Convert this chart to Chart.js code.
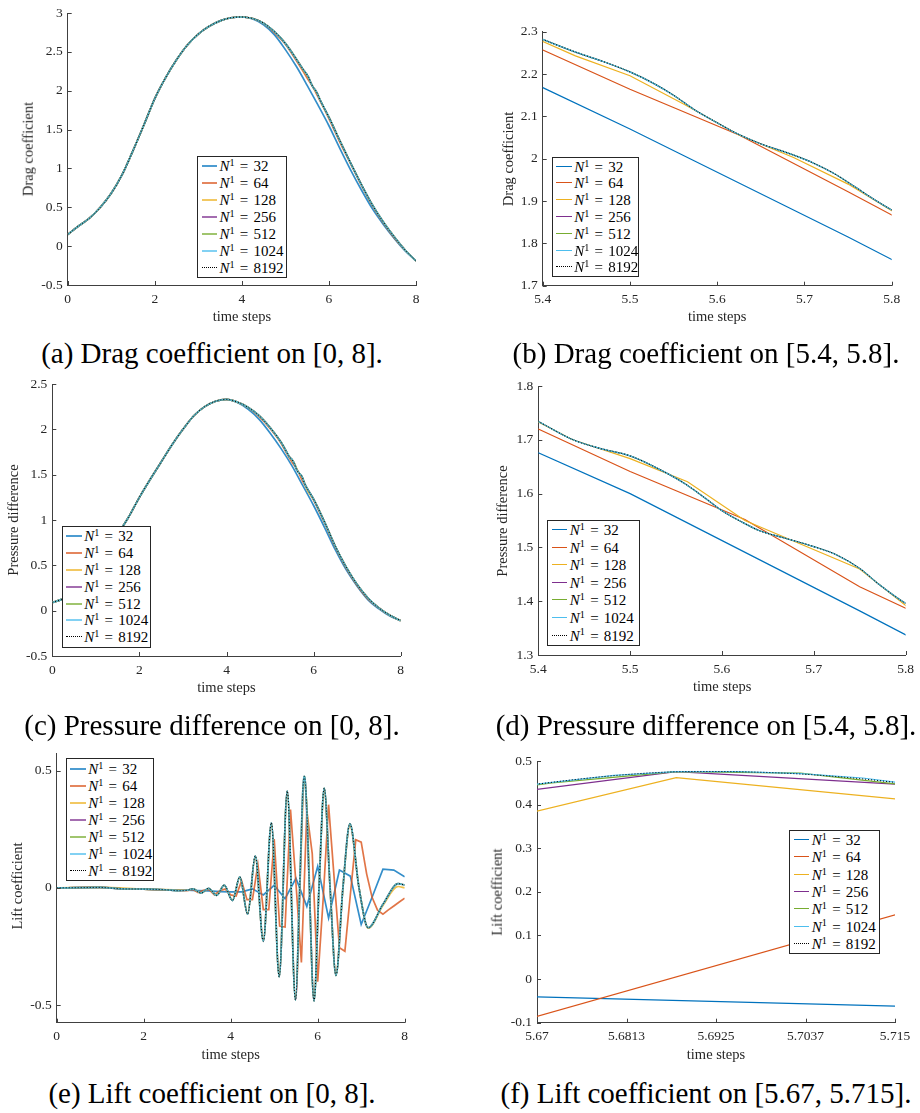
<!DOCTYPE html>
<html><head><meta charset="utf-8">
<script src="https://cdn.jsdelivr.net/npm/chart.js@4.4.1/dist/chart.umd.min.js"></script>
<style>
html,body{margin:0;padding:0;background:#fff}
body{width:920px;height:1113px;position:relative;overflow:hidden;font-family:'Liberation Serif','Times New Roman',serif;color:#262626}
canvas{position:absolute}
.yl,.xl,.cap{position:absolute;white-space:nowrap;line-height:1}
.yl{font-size:14.5px;transform:translate(-50%,-50%) rotate(-90deg)}
.xl{font-size:14.5px;transform:translate(-50%,-50%)}
.cap{font-size:29px;color:#000;transform:translate(-50%,-50%)}
.leg{position:absolute;box-sizing:border-box;border:1px solid #262626;background:#fff}
.sw{position:absolute;width:15.5px;height:0}
.tx{position:absolute;transform:translateY(-50%);font-size:15px;word-spacing:1.5px;white-space:nowrap;line-height:1;color:#000}
.tx sup{font-size:68%;vertical-align:0;position:relative;top:-0.5em}
</style></head><body>
<script>
// ---------------- DATA ----------------
const seriesN = [32, 64, 128, 256, 512, 1024, 8192];

// Drag coefficient
const tDrag32 = [0,0.25,0.5,0.75,1,1.25,1.5,1.75,2,2.25,2.5,2.75,3,3.25,3.5,3.75,4,4.25,4.5,4.75,5,5.25,5.5,5.75,6,6.25,6.5,6.75,7,7.25,7.5,7.75,8];
const drag32 = [0.15,0.26,0.36,0.50,0.68,0.92,1.23,1.56,1.90,2.17,2.40,2.59,2.73,2.83,2.90,2.94,2.95,2.925,2.85,2.72,2.53,2.315,2.07,1.815,1.55,1.26,0.98,0.72,0.48,0.28,0.10,-0.06,-0.19];
const tDrag64 = [0,0.25,0.5,0.75,1,1.25,1.5,1.75,2,2.25,2.5,2.75,3,3.25,3.5,3.75,4,4.25,4.5,4.75,5,5.25,5.375,5.5,5.625,5.75,5.875,6,6.25,6.5,6.75,7,7.25,7.5,7.75,8];
const drag64 = [0.15,0.26,0.36,0.50,0.68,0.92,1.23,1.56,1.90,2.17,2.40,2.59,2.73,2.83,2.90,2.94,2.95,2.93,2.87,2.75,2.60,2.39,2.28,2.164,2.056,1.922,1.785,1.64,1.34,1.06,0.78,0.52,0.30,0.11,-0.05,-0.19];
const tDrag128 = [0,0.25,0.5,0.75,1,1.25,1.5,1.75,2,2.25,2.5,2.75,3,3.25,3.5,3.75,4,4.25,4.5,4.75,5,5.25,5.375,5.4375,5.5,5.5625,5.625,5.6875,5.75,5.8125,5.875,6,6.25,6.5,6.75,7,7.25,7.5,7.75,8];
const drag128 = [0.15,0.26,0.36,0.50,0.68,0.92,1.23,1.56,1.90,2.17,2.40,2.59,2.73,2.83,2.90,2.94,2.95,2.93,2.87,2.76,2.61,2.41,2.30,2.243,2.196,2.128,2.056,2.003,1.94,1.862,1.79,1.66,1.36,1.07,0.79,0.53,0.31,0.12,-0.05,-0.19];
const tDragFine = [0,0.25,0.5,0.75,1,1.25,1.5,1.75,2,2.25,2.5,2.75,3,3.25,3.5,3.75,4,4.25,4.5,4.75,5,5.25,5.4,5.44,5.47,5.5,5.527,5.55,5.573,5.6,5.622,5.649,5.687,5.71,5.733,5.756,5.779,5.8,6,6.25,6.5,6.75,7,7.25,7.5,7.75,8];
const drag256 = [0.15,0.26,0.36,0.50,0.68,0.92,1.23,1.56,1.90,2.17,2.40,2.59,2.73,2.83,2.90,2.94,2.95,2.93,2.87,2.76,2.61,2.41,2.282,2.250,2.229,2.205,2.178,2.150,2.117,2.085,2.060,2.036,2.009,1.990,1.966,1.936,1.905,1.879,1.66,1.36,1.07,0.79,0.53,0.31,0.12,-0.05,-0.19];
const drag512 = [0.15,0.26,0.36,0.50,0.68,0.92,1.23,1.56,1.90,2.17,2.40,2.59,2.73,2.83,2.90,2.94,2.95,2.93,2.87,2.76,2.61,2.41,2.282,2.250,2.229,2.205,2.178,2.150,2.117,2.085,2.060,2.036,2.009,1.990,1.966,1.936,1.905,1.879,1.66,1.36,1.07,0.79,0.53,0.31,0.12,-0.05,-0.19];
const drag1024 = [0.15,0.26,0.36,0.50,0.68,0.92,1.23,1.56,1.90,2.17,2.40,2.59,2.73,2.83,2.90,2.94,2.95,2.93,2.87,2.76,2.61,2.41,2.282,2.250,2.229,2.205,2.178,2.150,2.117,2.085,2.060,2.036,2.009,1.990,1.966,1.936,1.905,1.879,1.66,1.36,1.07,0.79,0.53,0.31,0.12,-0.05,-0.19];
const drag8192 = [0.15,0.26,0.36,0.50,0.68,0.92,1.23,1.56,1.90,2.17,2.40,2.59,2.73,2.83,2.90,2.94,2.95,2.93,2.87,2.76,2.61,2.41,2.282,2.250,2.229,2.205,2.178,2.150,2.117,2.085,2.060,2.036,2.009,1.990,1.966,1.936,1.905,1.879,1.66,1.36,1.07,0.79,0.53,0.31,0.12,-0.05,-0.19];

// Pressure difference
const tPres32 = [0,0.25,0.5,0.75,1,1.25,1.5,1.75,2,2.25,2.5,2.75,3,3.25,3.5,3.75,4,4.25,4.5,4.75,5,5.25,5.5,5.75,6,6.25,6.5,6.75,7,7.25,7.5,7.75,8];
const pres32 = [0.09,0.13,0.19,0.30,0.45,0.63,0.84,1.03,1.25,1.45,1.64,1.83,2.00,2.15,2.25,2.31,2.33,2.295,2.22,2.11,1.96,1.79,1.60,1.382,1.16,0.92,0.67,0.45,0.27,0.12,0.02,-0.06,-0.11];
const tPres64 = [0,0.25,0.5,0.75,1,1.25,1.5,1.75,2,2.25,2.5,2.75,3,3.25,3.5,3.75,4,4.25,4.5,4.75,5,5.25,5.375,5.5,5.625,5.75,5.875,6,6.25,6.5,6.75,7,7.25,7.5,7.75,8];
const pres64 = [0.09,0.13,0.19,0.30,0.45,0.63,0.84,1.03,1.25,1.45,1.64,1.83,2.00,2.15,2.25,2.31,2.33,2.30,2.24,2.14,2.01,1.85,1.74,1.641,1.552,1.427,1.327,1.22,0.97,0.70,0.47,0.28,0.13,0.03,-0.05,-0.11];
const tPres128 = [0,0.25,0.5,0.75,1,1.25,1.5,1.75,2,2.25,2.5,2.75,3,3.25,3.5,3.75,4,4.25,4.5,4.75,5,5.25,5.375,5.4375,5.5,5.5625,5.625,5.6875,5.75,5.8125,5.875,6,6.25,6.5,6.75,7,7.25,7.5,7.75,8];
const pres128 = [0.09,0.13,0.19,0.30,0.45,0.63,0.84,1.03,1.25,1.45,1.64,1.83,2.00,2.15,2.25,2.31,2.33,2.30,2.24,2.15,2.02,1.86,1.755,1.70,1.665,1.622,1.55,1.505,1.46,1.375,1.31,1.23,0.98,0.71,0.48,0.29,0.14,0.03,-0.05,-0.11];
const tPresFine = [0,0.25,0.5,0.75,1,1.25,1.5,1.75,2,2.25,2.5,2.75,3,3.25,3.5,3.75,4,4.25,4.5,4.75,5,5.25,5.4,5.438,5.467,5.5,5.532,5.561,5.583,5.601,5.623,5.641,5.667,5.699,5.725,5.75,5.772,5.8,6,6.25,6.5,6.75,7,7.25,7.5,7.75,8];
const pres256 = [0.09,0.13,0.19,0.30,0.45,0.63,0.84,1.03,1.25,1.45,1.64,1.83,2.00,2.15,2.25,2.31,2.33,2.30,2.24,2.15,2.02,1.86,1.734,1.700,1.684,1.670,1.645,1.617,1.590,1.567,1.546,1.531,1.518,1.502,1.486,1.461,1.430,1.396,1.23,0.98,0.71,0.48,0.29,0.14,0.03,-0.05,-0.11];
const pres512 = [0.09,0.13,0.19,0.30,0.45,0.63,0.84,1.03,1.25,1.45,1.64,1.83,2.00,2.15,2.25,2.31,2.33,2.30,2.24,2.15,2.02,1.86,1.734,1.700,1.684,1.670,1.645,1.617,1.590,1.567,1.546,1.531,1.518,1.502,1.486,1.461,1.430,1.396,1.23,0.98,0.71,0.48,0.29,0.14,0.03,-0.05,-0.11];
const pres1024 = [0.09,0.13,0.19,0.30,0.45,0.63,0.84,1.03,1.25,1.45,1.64,1.83,2.00,2.15,2.25,2.31,2.33,2.30,2.24,2.15,2.02,1.86,1.734,1.700,1.684,1.670,1.645,1.617,1.590,1.567,1.546,1.531,1.518,1.502,1.486,1.461,1.430,1.396,1.23,0.98,0.71,0.48,0.29,0.14,0.03,-0.05,-0.11];
const pres8192 = [0.09,0.13,0.19,0.30,0.45,0.63,0.84,1.03,1.25,1.45,1.64,1.83,2.00,2.15,2.25,2.31,2.33,2.30,2.24,2.15,2.02,1.86,1.734,1.700,1.684,1.670,1.645,1.617,1.590,1.567,1.546,1.531,1.518,1.502,1.486,1.461,1.430,1.396,1.23,0.98,0.71,0.48,0.29,0.14,0.03,-0.05,-0.11];

// Lift coefficient
const tLift32 = [0,0.25,0.5,0.75,1,1.25,1.5,1.75,2,2.25,2.5,2.75,3,3.25,3.5,3.75,4,4.25,4.5,4.75,5,5.25,5.5,5.75,6,6.25,6.5,6.75,7,7.25,7.5,7.75,8];
const lift32 = [0,0,0.001,0.002,0.002,0,-0.004,-0.005,-0.005,-0.007,-0.008,-0.01,-0.01,-0.012,-0.013,-0.016,-0.017,-0.017,-0.004,-0.03,0.011,-0.046,0.041,-0.079,0.092,-0.128,0.076,0.05,-0.156,-0.04,0.08,0.076,0.047];
const tLift64 = [0,0.125,0.25,0.375,0.5,0.625,0.75,0.875,1,1.125,1.25,1.375,1.5,1.625,1.75,1.875,2,2.125,2.25,2.375,2.5,2.625,2.75,2.875,3,3.125,3.25,3.375,3.5,3.625,3.75,3.875,4,4.125,4.25,4.375,4.5,4.625,4.75,4.875,5,5.125,5.25,5.375,5.5,5.625,5.75,5.875,6,6.125,6.25,6.375,6.5,6.625,6.75,6.875,7,7.125,7.25,7.375,7.5,7.625,7.75,7.875,8];
const lift64 = [0,0,0,0.001,0.001,0.002,0.002,0.002,0.002,0.001,0,-0.002,-0.004,-0.004,-0.005,-0.005,-0.005,-0.006,-0.007,-0.008,-0.008,-0.009,-0.01,-0.011,-0.012,-0.006,-0.02,-0.01,-0.006,-0.03,-0.012,-0.005,-0.03,-0.035,0.03,-0.05,-0.05,0.10,-0.093,-0.093,0.208,-0.163,-0.167,0.334,0.02,-0.318,0.328,0.145,-0.40,-0.05,0.355,0.05,-0.255,-0.27,-0.03,0.205,0.195,0.06,-0.04,-0.095,-0.112,-0.094,-0.077,-0.06,-0.044];
const tLift128 = [0,1,2,3,3.13,3.32,3.49,3.68,3.85,4.04,4.21,4.39,4.565,4.75,4.935,5.115,5.3,5.49,5.625,5.6875,5.75,5.915,6.03,6.15,6.285,6.42,6.58,6.74,6.95,7.16,7.5,7.85,8];
const lift128 = [0,0.002,-0.005,-0.01,-0.004,-0.022,-0.003,-0.031,0.011,-0.052,0.045,-0.108,0.132,-0.222,0.27,-0.372,0.405,-0.47,0.187,0.462,0.351,-0.475,0,0.415,0,-0.368,0,0.265,0,-0.172,-0.075,0.006,0];
const tLift256 = [0,0.5,1,1.5,2,2.5,2.8,3,3.13,3.32,3.49,3.68,3.85,4.04,4.21,4.39,4.565,4.75,4.935,5.115,5.3,5.49,5.59,5.65625,5.6875,5.71875,5.8,5.915,6.03,6.15,6.285,6.42,6.58,6.74,6.95,7.16,7.5,7.85,8];
const lift256 = [0,0.001,0.002,-0.004,-0.005,-0.008,-0.012,-0.01,-0.004,-0.022,-0.002,-0.032,0.012,-0.054,0.047,-0.112,0.137,-0.228,0.277,-0.379,0.413,-0.478,0,0.403,0.4755,0.443,0.05,-0.482,0,0.425,0,-0.373,0,0.273,0,-0.17,-0.07,0.018,0.012];
const tLift512 = [0,0.5,1,1.5,2,2.5,2.8,3,3.13,3.32,3.49,3.68,3.85,4.04,4.21,4.39,4.565,4.75,4.935,5.115,5.3,5.49,5.585,5.63,5.65625,5.671875,5.6875,5.703125,5.71875,5.76,5.8,5.915,6.03,6.15,6.285,6.42,6.58,6.74,6.95,7.16,7.5,7.85,8];
const lift512 = [0,0.001,0.002,-0.004,-0.005,-0.008,-0.012,-0.01,-0.004,-0.022,-0.002,-0.032,0.012,-0.054,0.047,-0.112,0.137,-0.228,0.278,-0.38,0.414,-0.479,0,0.27,0.41,0.450,0.4755,0.472,0.440,0.29,0.05,-0.483,0,0.426,0,-0.374,0,0.274,0,-0.17,-0.07,0.018,0.012];
const tLift1024 = [0,0.5,1,1.5,2,2.5,2.8,3,3.13,3.32,3.49,3.68,3.85,4.04,4.21,4.39,4.565,4.75,4.935,5.115,5.3,5.49,5.585,5.63,5.6640625,5.671875,5.6796875,5.6875,5.6953125,5.703125,5.7109375,5.71875,5.76,5.8,5.915,6.03,6.15,6.285,6.42,6.58,6.74,6.95,7.16,7.5,7.85,8];
const lift1024 = [0,0.001,0.002,-0.004,-0.005,-0.008,-0.012,-0.01,-0.004,-0.022,-0.002,-0.032,0.012,-0.054,0.047,-0.112,0.137,-0.228,0.278,-0.38,0.414,-0.479,0,0.27,0.434,0.451,0.467,0.4755,0.4755,0.471,0.461,0.443,0.29,0.05,-0.483,0,0.426,0,-0.374,0,0.274,0,-0.17,-0.07,0.018,0.012];
const tLift8192 = [0,0.5,1,1.5,2,2.5,2.8,3,3.13,3.32,3.49,3.68,3.85,4.04,4.21,4.39,4.565,4.75,4.935,5.115,5.3,5.49,5.585,5.63,5.655,5.665,5.67,5.675,5.68,5.685,5.69,5.695,5.7,5.705,5.71,5.715,5.72,5.73,5.76,5.8,5.915,6.03,6.15,6.285,6.42,6.58,6.74,6.95,7.16,7.5,7.85,8];
const lift8192 = [0,0.001,0.002,-0.004,-0.005,-0.008,-0.012,-0.01,-0.004,-0.022,-0.002,-0.032,0.012,-0.054,0.047,-0.112,0.137,-0.228,0.278,-0.38,0.414,-0.479,0,0.27,0.405,0.437,0.447,0.458,0.467,0.4735,0.476,0.4755,0.473,0.468,0.4605,0.451,0.44,0.41,0.29,0.05,-0.483,0,0.426,0,-0.374,0,0.274,0,-0.17,-0.07,0.018,0.012];

// Tick values and labels
const xTicksFull = [0,2,4,6,8];
const xLabelsFull = ['0','2','4','6','8'];
const xTicksZoom = [5.4,5.5,5.6,5.7,5.8];
const xLabelsZoom = ['5.4','5.5','5.6','5.7','5.8'];
const xTicksLiftZoom = [5.67,5.68125,5.6925,5.70375,5.715];
const xLabelsLiftZoom = ['5.67','5.6813','5.6925','5.7037','5.715'];
const yTicksA = [-0.5,0,0.5,1,1.5,2,2.5,3];
const yLabelsA = ['-0.5','0','0.5','1','1.5','2','2.5','3'];
const yTicksB = [1.7,1.8,1.9,2,2.1,2.2,2.3];
const yLabelsB = ['1.7','1.8','1.9','2','2.1','2.2','2.3'];
const yTicksC = [-0.5,0,0.5,1,1.5,2,2.5];
const yLabelsC = ['-0.5','0','0.5','1','1.5','2','2.5'];
const yTicksD = [1.3,1.4,1.5,1.6,1.7,1.8];
const yLabelsD = ['1.3','1.4','1.5','1.6','1.7','1.8'];
const yTicksE = [-0.5,0,0.5];
const yLabelsE = ['-0.5','0','0.5'];
const yTicksF = [-0.1,0,0.1,0.2,0.3,0.4,0.5];
const yLabelsF = ['-0.1','0','0.1','0.2','0.3','0.4','0.5'];

// ---------------- STYLE / LAYOUT ----------------
const COLORS = ['#0072BD','#D95319','#EDB120','#7E2F8E','#77AC30','#4DBEEE','#000000'];
function rgba(hex,a){const n=parseInt(hex.slice(1),16);return 'rgba('+(n>>16)+','+((n>>8)&255)+','+(n&255)+','+a+')';}

const inwardTicks = {id:'inwardTicks', afterDraw(chart){
  const {ctx, chartArea:a, scales:{x,y}} = chart;
  ctx.save(); ctx.strokeStyle='#404040'; ctx.lineWidth=1; ctx.beginPath();
  x.ticks.forEach(t=>{const px=Math.round(x.getPixelForValue(t.value))+0.5; ctx.moveTo(px,a.bottom); ctx.lineTo(px,a.bottom-4);});
  y.ticks.forEach(t=>{const py=Math.round(y.getPixelForValue(t.value))+0.5; ctx.moveTo(a.left,py); ctx.lineTo(a.left+4,py);});
  ctx.stroke(); ctx.restore();
}};

function makePanel(cfg){
  const p = cfg.box;
  const cv = document.createElement('canvas');
  cv.width=p.w; cv.height=p.h; cv.style.left=p.x+'px'; cv.style.top=p.y+'px';
  cv.style.width=p.w+'px'; cv.style.height=p.h+'px';
  document.body.appendChild(cv);
  const datasets = cfg.series.map((s,i)=>({
    label: 'N1 = '+seriesN[i],
    data: s[0].map((x,k)=>({x:x, y:s[1][k]})),
    borderColor: i===6 ? '#000' : rgba(COLORS[i], cfg.alpha),
    borderWidth: i===6 ? 1 : cfg.lw,
    borderDash: i===6 ? [1,2] : [],
    cubicInterpolationMode: cfg.smooth[i] ? 'monotone' : 'default',
    tension: 0, pointRadius: 0, pointHoverRadius: 0, fill: false, order: 6-i
  }));
  const tickFont = {family:"'Liberation Serif', serif", size:13.5};
  new Chart(cv, {type:'line', data:{datasets}, options:{
    responsive:false, animation:false, events:[], devicePixelRatio:1,
    layout:{padding:{left:0, top:p.T-p.y, right:p.x+p.w-p.R, bottom:0}},
    plugins:{legend:{display:false}, tooltip:{enabled:false}},
    scales:{
      x:{type:'linear', min:cfg.xr[0], max:cfg.xr[1],
        afterBuildTicks:s=>{s.ticks=cfg.xt.map(v=>({value:v}));},
        ticks:{callback:(v,i)=>cfg.xl[i], font:tickFont, color:'#262626', padding:6, maxRotation:0, minRotation:0, autoSkip:false},
        grid:{display:false, drawTicks:false}, border:{color:'#404040', width:1},
        afterFit:s=>{s.height=p.y+p.h-p.B;}},
      y:{type:'linear', min:cfg.yr[0], max:cfg.yr[1],
        afterBuildTicks:s=>{s.ticks=cfg.yt.map(v=>({value:v}));},
        ticks:{callback:(v,i)=>cfg.yl[i], font:tickFont, color:'#262626', padding:5, autoSkip:false},
        grid:{display:false, drawTicks:false}, border:{color:'#404040', width:1},
        afterFit:s=>{s.width=p.L-p.x;}}
    }
  }, plugins:[inwardTicks]});
}

function makeLegend(b, thick){
  const d=document.createElement('div'); d.className='leg';
  d.style.left=b.x+'px'; d.style.top=b.y+'px'; d.style.width=b.w+'px'; d.style.height=b.h+'px';
  seriesN.forEach((n,i)=>{
    const cy=b.first+i*b.rh;
    const sw=document.createElement('div'); sw.className='sw';
    sw.style.left='3.5px'; sw.style.top=(cy-1)+'px';
    if(i===6){ sw.style.borderTop='1px dotted #000'; }
    else { sw.style.borderTop=(thick?2:1.3)+'px solid '+(thick?rgba(COLORS[i],0.7):COLORS[i]); }
    const tx=document.createElement('div'); tx.className='tx';
    tx.style.left='21.5px'; tx.style.top=cy+'px';
    tx.innerHTML='<i>N</i><sup>1</sup> = '+n;
    d.appendChild(sw); d.appendChild(tx);
  });
  document.body.appendChild(d);
}

function addText(cls, x, y, html){
  const e=document.createElement('div'); e.className=cls; e.style.left=x+'px'; e.style.top=y+'px'; e.innerHTML=html;
  document.body.appendChild(e);
}

const smoothAll=[true,true,true,true,true,true,true];
const smoothZoom=[false,false,false,true,true,true,true];
const smoothLiftZoom=[false,false,false,false,false,false,true];
const smoothLift=[false,false,true,true,true,true,true];

const dragSeries=[[tDrag32,drag32],[tDrag64,drag64],[tDrag128,drag128],[tDragFine,drag256],[tDragFine,drag512],[tDragFine,drag1024],[tDragFine,drag8192]];
const presSeries=[[tPres32,pres32],[tPres64,pres64],[tPres128,pres128],[tPresFine,pres256],[tPresFine,pres512],[tPresFine,pres1024],[tPresFine,pres8192]];
const liftSeries=[[tLift32,lift32],[tLift64,lift64],[tLift128,lift128],[tLift256,lift256],[tLift512,lift512],[tLift1024,lift1024],[tLift8192,lift8192]];

makePanel({box:{x:0,y:0,w:460,h:330,L:67.7,R:416,T:12.3,B:285}, series:dragSeries, xr:[0,8], xt:xTicksFull, xl:xLabelsFull, yr:[-0.5,3], yt:yTicksA, yl:yLabelsA, smooth:smoothAll, lw:1.7, alpha:0.8});
makePanel({box:{x:460,y:0,w:460,h:330,L:542.7,R:891.7,T:31.7,B:285.7}, series:dragSeries, xr:[5.4,5.8], xt:xTicksZoom, xl:xLabelsZoom, yr:[1.7,2.3], yt:yTicksB, yl:yLabelsB, smooth:smoothZoom, lw:1.2, alpha:1});
makePanel({box:{x:0,y:370,w:460,h:330,L:52.3,R:400.7,T:384,B:656}, series:presSeries, xr:[0,8], xt:xTicksFull, xl:xLabelsFull, yr:[-0.5,2.5], yt:yTicksC, yl:yLabelsC, smooth:smoothAll, lw:1.7, alpha:0.8});
makePanel({box:{x:460,y:370,w:460,h:330,L:538.3,R:906,T:386,B:655}, series:presSeries, xr:[5.4,5.8], xt:xTicksZoom, xl:xLabelsZoom, yr:[1.3,1.8], yt:yTicksD, yl:yLabelsD, smooth:smoothZoom, lw:1.2, alpha:1});
makePanel({box:{x:0,y:740,w:460,h:330,L:56.7,R:404.7,T:750,B:1022.7}, series:liftSeries, xr:[0,8], xt:xTicksFull, xl:xLabelsFull, yr:[-0.575,0.575], yt:yTicksE, yl:yLabelsE, smooth:smoothLift, lw:1.7, alpha:0.8});
makePanel({box:{x:460,y:740,w:460,h:330,L:537,R:895,T:761,B:1022.7}, series:liftSeries, xr:[5.67,5.715], xt:xTicksLiftZoom, xl:xLabelsLiftZoom, yr:[-0.1,0.5], yt:yTicksF, yl:yLabelsF, smooth:smoothLiftZoom, lw:1.2, alpha:1});

makeLegend({x:197,y:156,w:90,h:122,rh:17,first:9.3}, true);
makeLegend({x:551.7,y:157.3,w:87.6,h:120,rh:16.8,first:8.4}, false);
makeLegend({x:61.7,y:525.7,w:89,h:122,rh:16.9,first:9.3}, true);
makeLegend({x:547.3,y:519.7,w:92.4,h:126.3,rh:17.6,first:9.3}, false);
makeLegend({x:65.7,y:758.3,w:88.6,h:122.7,rh:17,first:9.7}, true);
makeLegend({x:789.3,y:830,w:91,h:124,rh:17.3,first:9}, false);

addText('yl',28.3,148.7,'Drag coefficient');
addText('xl',241.9,316,'time steps');
addText('yl',508.3,158.7,'Drag coefficient');
addText('xl',717.2,316,'time steps');
addText('yl',12.7,520,'Pressure difference');
addText('xl',226.5,687,'time steps');
addText('yl',501.7,520.5,'Pressure difference');
addText('xl',722.2,686,'time steps');
addText('yl',16.7,886.4,'Lift coefficient');
addText('xl',230.7,1054,'time steps');
addText('yl',497.3,891.9,'Lift coefficient');
addText('xl',716,1054,'time steps');

addText('cap',212,353,'(a) Drag coefficient on [0, 8].');
addText('cap',706,353,'(b) Drag coefficient on [5.4, 5.8].');
addText('cap',212,725,'(c) Pressure difference on [0, 8].');
addText('cap',706,725,'(d) Pressure difference on [5.4, 5.8].');
addText('cap',212,1093,'(e) Lift coefficient on [0, 8].');
addText('cap',706,1093,'(f) Lift coefficient on [5.67, 5.715].');
</script>
</body></html>
